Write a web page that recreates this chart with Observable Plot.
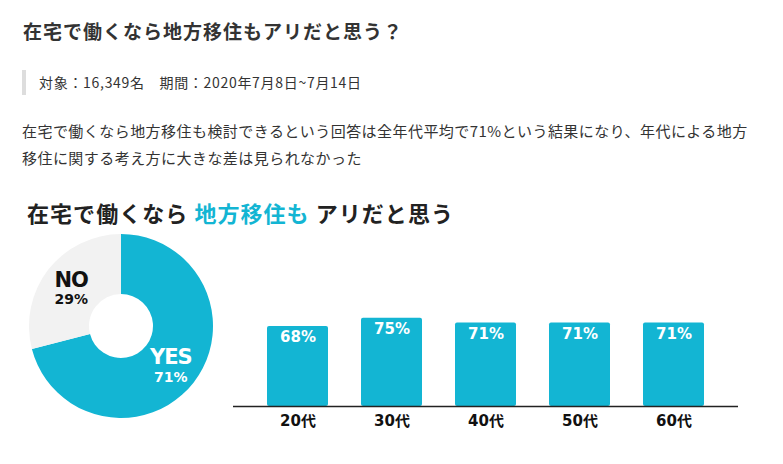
<!DOCTYPE html>
<html><head><meta charset="utf-8">
<script src="https://cdn.jsdelivr.net/npm/d3@7"></script>
<script src="https://cdn.jsdelivr.net/npm/@observablehq/plot@0.6"></script>
<style>
html,body{margin:0;padding:0;background:#fff;}
#page{position:relative;width:783px;height:464px;overflow:hidden;font-family:"Noto Sans CJK JP","Noto Sans",sans-serif;color:#333;}
.abs{position:absolute;white-space:nowrap;}
#title{left:23px;top:21px;font-size:19px;line-height:20px;font-weight:bold;letter-spacing:1px;color:#333;}
#meta{left:22px;top:70px;height:25px;border-left:4px solid #ddd;padding-left:13px;font-size:14px;line-height:25px;color:#333;letter-spacing:0.7px;}
#para{left:22px;top:117px;font-size:15px;line-height:27px;color:#333;letter-spacing:0.45px;}
#ctitle{left:27px;top:200px;font-size:22px;line-height:24px;font-weight:bold;color:#222;letter-spacing:1.05px;}
#ctitle span{color:#13b5d3;}
#donut{left:0;top:224px;}
#bars{left:0;top:240px;}
</style></head>
<body><div id="page">
<div id="title" class="abs">在宅で働くなら地方移住もアリだと思う？</div>
<div id="meta" class="abs">対象：16,349名　期間：2020年7月8日~7月14日</div>
<div id="para" class="abs">在宅で働くなら地方移住も検討できるという回答は全年代平均で71%という結果になり、年代による地方<br>移住に関する考え方に大きな差は見られなかった</div>
<div id="ctitle" class="abs">在宅で働くなら <span>地方移住も</span> アリだと思う</div>
<div id="donut" class="abs"></div>
<div id="bars" class="abs"></div>
</div>
<script>
// Data
const answers = ["YES", "NO"];
const shares = [71, 29];
const shareLabels = ["71%", "29%"];
const ages = ["20代", "30代", "40代", "50代", "60代"];
const ageValues = [68, 75, 71, 71, 71];
const ageLabels = ["68%", "75%", "71%", "71%", "71%"];

const CYAN = "#13b5d3";
const GRAY = "#f2f2f2";

const pieData = answers.map((a, i) => ({answer: a, value: shares[i], label: shareLabels[i]}));
const barData = ages.map((a, i) => ({age: a, value: ageValues[i], label: ageLabels[i]}));

// Donut
const donutMark = (index, scales, values, dims) => {
  const cx = 121, cy = 102, R = 92, r = 32;
  const pie = d3.pie().sort(null).value(d => d.value)(pieData);
  const arc = d3.arc().innerRadius(r).outerRadius(R);
  const lab = d3.arc().innerRadius(34).outerRadius(92);
  const color = d3.scaleOrdinal().domain(answers).range([CYAN, GRAY]);
  const g = d3.create("svg:g").attr("transform", `translate(${cx},${cy})`);
  g.selectAll("path").data(pie).join("path")
    .attr("d", arc).attr("fill", d => color(d.data.answer));
  const t = g.selectAll("g.l").data(pie).join("g")
    .attr("transform", d => `translate(${lab.centroid(d)})`)
    .attr("fill", d => d.data.answer === "YES" ? "#fff" : "#111")
    .attr("text-anchor", "middle")
    .attr("font-family", "'DejaVu Sans','Noto Sans',sans-serif")
    .attr("font-weight", "bold");
  t.append("text").attr("y", -8).attr("dy", "0.35em").attr("font-size", 21).attr("letter-spacing", -1).text(d => d.data.answer);
  t.append("text").attr("y", 12).attr("dy", "0.35em").attr("font-size", 14).text(d => d.data.label);
  return g.node();
};
const donut = Plot.plot({
  width: 240, height: 210,
  margin: 0,
  marks: [donutMark]
});
document.getElementById("donut").appendChild(donut);

// Bars
const bars = Plot.plot({
  width: 783, height: 200,
  marginLeft: 233, marginRight: 45, marginTop: 48.4, marginBottom: 34,
  style: {fontFamily: "'DejaVu Sans','Noto Sans CJK JP',sans-serif", background: "transparent"},
  x: {domain: ages, paddingInner: 0.355, paddingOuter: 0.337, label: null},
  y: {domain: [0, 100], axis: null},
  marks: [
    Plot.barY(barData, {x: "age", y: "value", fill: CYAN, rx: 2}),
    Plot.text(barData, {x: "age", y: "value", text: "label", dy: 11, fill: "#fff", fontSize: 15, fontWeight: "bold"}),
    Plot.ruleY([0], {stroke: "#222", strokeWidth: 1.5}),
    Plot.axisX({tickSize: 0, tickPadding: 9, fontSize: 15, fontWeight: "bold", color: "#111", label: null})
  ]
});
document.getElementById("bars").appendChild(bars);
</script>
</body></html>
